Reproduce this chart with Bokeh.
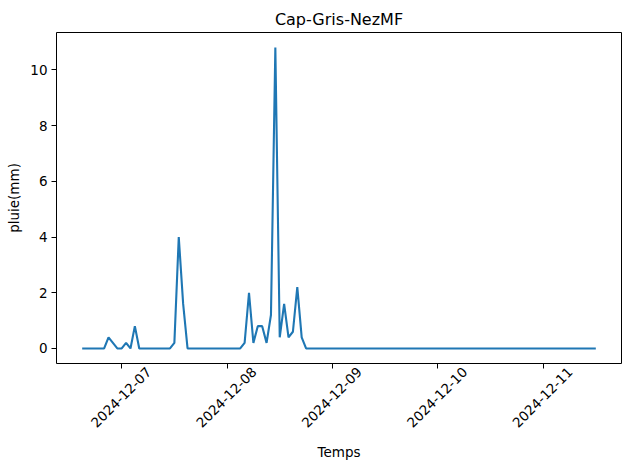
import math
import pandas as pd
from bokeh.plotting import figure
from bokeh.models import (FixedTicker, DatetimeTickFormatter, Range1d, ColumnDataSource,
                          DatetimeAxis)
from bokeh.embed import file_html
from bokeh.resources import INLINE

# ---- data ----
station = "Cap-Gris-NezMF"
start_time = "2024-12-06 15:00"
pluie_mm = [
    0, 0, 0, 0, 0, 0, 0.4, 0.2, 0, 0,
    0.2, 0, 0.8, 0, 0, 0, 0, 0, 0, 0,
    0, 0.2, 4.0, 1.6, 0, 0, 0, 0, 0, 0,
    0, 0, 0, 0, 0, 0, 0, 0.2, 2.0, 0.2,
    0.8, 0.8, 0.2, 1.2, 10.8, 0.4, 1.6, 0.4, 0.6, 2.2,
    0.4, 0, 0, 0, 0, 0, 0, 0, 0, 0,
    0, 0, 0, 0, 0, 0, 0, 0, 0, 0,
    0, 0, 0, 0, 0, 0, 0, 0, 0, 0,
    0, 0, 0, 0, 0, 0, 0, 0, 0, 0,
    0, 0, 0, 0, 0, 0, 0, 0, 0, 0,
    0, 0, 0, 0, 0, 0, 0, 0, 0, 0,
    0, 0, 0, 0, 0, 0, 0, 0,
]
x_tick_dates = ["2024-12-07", "2024-12-08", "2024-12-09", "2024-12-10", "2024-12-11"]
y_ticks = [0, 2, 4, 6, 8, 10]

temps = pd.date_range(start=start_time, periods=len(pluie_mm), freq="h")
src = ColumnDataSource(dict(t=temps, v=pluie_mm))

# ranges with 5% margins (like matplotlib)
t0 = temps[0].value / 1e6
t1 = temps[-1].value / 1e6
dx = (t1 - t0) * 0.05
x0, x1 = t0 - dx, t1 + dx
vmin, vmax = min(pluie_mm), max(pluie_mm)
dy = (vmax - vmin) * 0.05
y0, y1 = vmin - dy, vmax + dy

FONT = "DejaVu Sans"
FS = "13.5px"
W, H = 629, 468
BL, BT, BR, BB = 56, 32, 8, 105
FRAME_W = W - BL - BR

p = figure(width=W, height=H, x_axis_type="datetime",
           output_backend="svg", toolbar_location=None,
           x_range=Range1d(x0, x1), y_range=Range1d(y0, y1),
           min_border_left=BL, min_border_top=BT, min_border_right=BR, min_border_bottom=BB)

p.line("t", "v", source=src, line_color="#1f77b4", line_width=2.1)

p.title.text = station
p.title.align = "center"
p.title.text_font = FONT
p.title.text_font_size = "16px"
p.title.text_font_style = "normal"
p.title.text_color = "black"
p.title.standoff = 8

p.xgrid.visible = False
p.ygrid.visible = False
p.outline_line_color = "black"
p.outline_line_alpha = 1
p.outline_line_width = 1

tick_ms = [pd.Timestamp(d).value / 1e6 for d in x_tick_dates]
fmt = "%Y-%m-%d"
def make_fmt():
    return DatetimeTickFormatter(days=fmt, months=fmt, hours=fmt, years=fmt,
                                 minutes=fmt, hourmin=fmt)

# main x axis: tick marks only
p.xaxis.ticker = FixedTicker(ticks=tick_ms)
p.xaxis.formatter = make_fmt()
p.xaxis.major_label_text_alpha = 0
p.xaxis.major_label_standoff = 0

p.yaxis.ticker = FixedTicker(ticks=y_ticks)
p.yaxis.axis_label = "pluie(mm)"

for ax in (p.xaxis, p.yaxis):
    ax.axis_line_color = None
    ax.major_tick_out = 5
    ax.major_tick_in = 0
    ax.minor_tick_line_color = None
    ax.major_tick_line_color = "black"
    ax.major_label_text_font = FONT
    ax.major_label_text_font_size = FS
    ax.major_label_text_color = "black"
    ax.axis_label_text_font = FONT
    ax.axis_label_text_font_size = FS
    ax.axis_label_text_font_style = "normal"
    ax.axis_label_text_color = "black"
    ax.major_label_standoff = 4
    ax.axis_label_standoff = 5

# label axis: shifted so rotated labels are centred on the ticks (matplotlib style)
shift = 27 * (x1 - x0) / FRAME_W
p.extra_x_ranges = {"lab": Range1d(x0 - shift, x1 - shift)}
lab_axis = DatetimeAxis(x_range_name="lab", ticker=FixedTicker(ticks=tick_ms),
                        formatter=make_fmt(), major_label_orientation=math.pi / 4,
                        axis_label="Temps")
lab_axis.axis_line_color = None
lab_axis.major_tick_line_color = None
lab_axis.major_tick_out = 0
lab_axis.major_tick_in = 0
lab_axis.minor_tick_line_color = None
lab_axis.major_label_text_font = FONT
lab_axis.major_label_text_font_size = FS
lab_axis.major_label_text_color = "black"
lab_axis.major_label_standoff = 1
lab_axis.axis_label_text_font = FONT
lab_axis.axis_label_text_font_size = FS
lab_axis.axis_label_text_font_style = "normal"
lab_axis.axis_label_text_color = "black"
lab_axis.axis_label_standoff = 9
p.add_layout(lab_axis, "below")

open("out.html", "w").write(file_html(p, INLINE))
